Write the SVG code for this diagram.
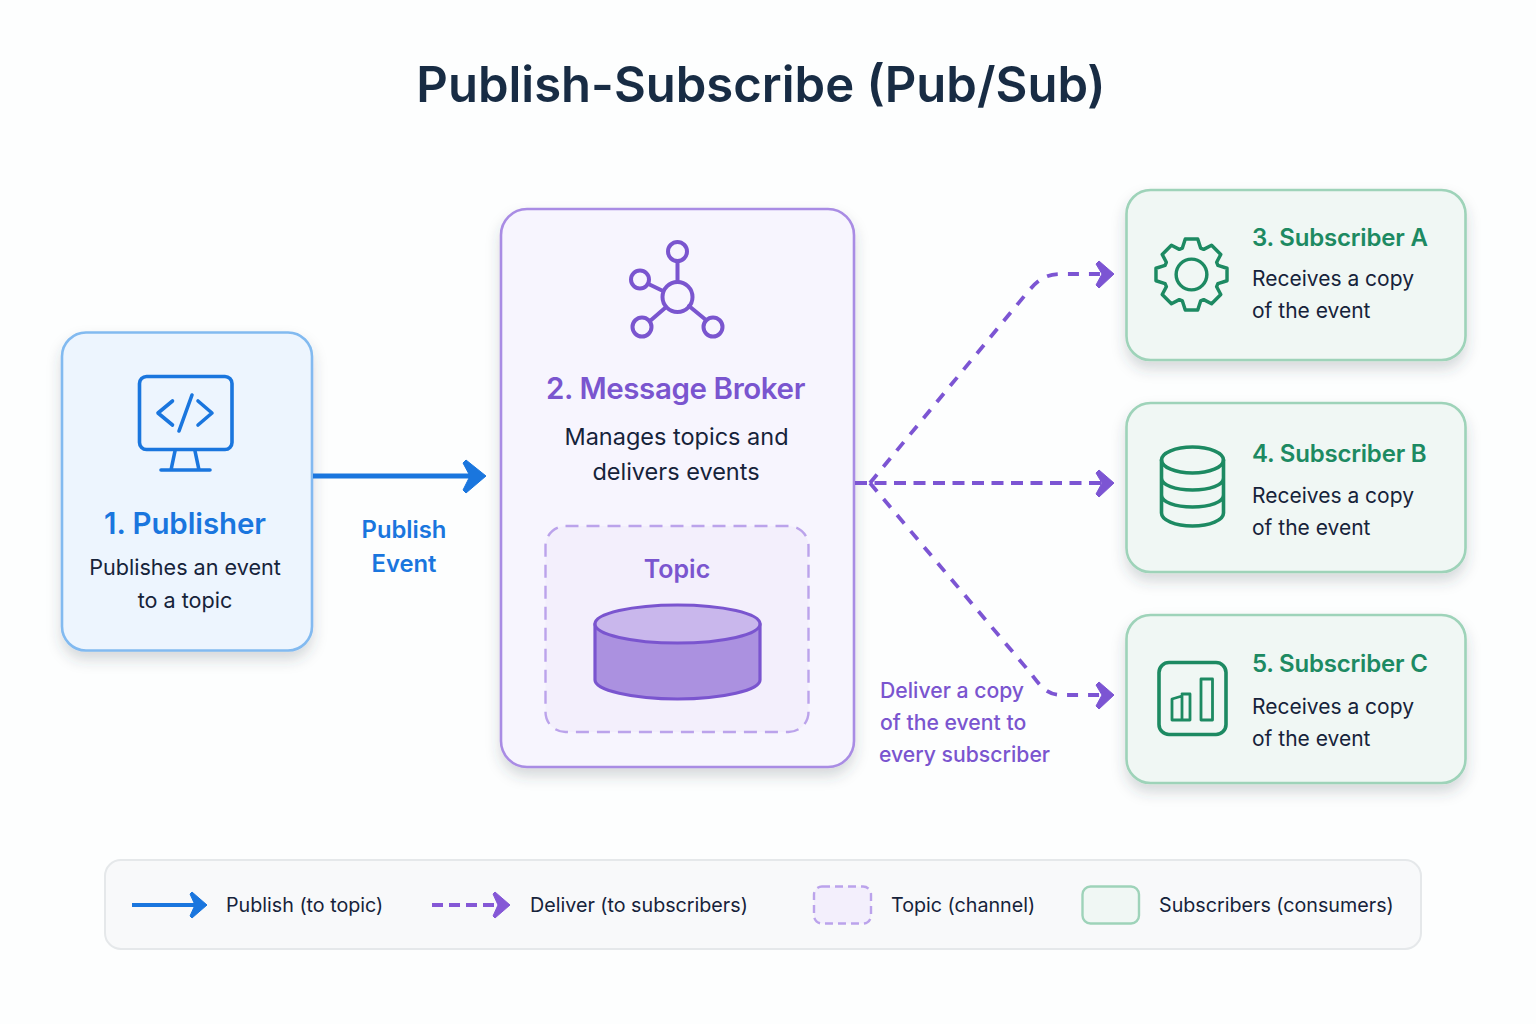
<svg xmlns="http://www.w3.org/2000/svg" width="1536" height="1024" viewBox="0 0 1536 1024">
<style>
text{font-family:Inter,"Noto Sans","Liberation Sans",sans-serif}
.title{font-size:49px;font-weight:600;fill:#182c44;text-anchor:middle}
.blue{fill:#1a76de}.pur{fill:#7a55cf}.grn{fill:#1d8a62}
.d{fill:#16233a}
.m{text-anchor:middle}
.sub{font-size:24px;font-weight:600;letter-spacing:-.2px}
.desc{font-size:21px}
.leg{font-size:19.700px;fill:#16233a}
.ib{fill:none;stroke:#1a76de;stroke-width:3.600;stroke-linecap:round;stroke-linejoin:round}
.ip{fill:none;stroke:#7a55cf;stroke-width:4;stroke-linecap:round;stroke-linejoin:round}
.ig{fill:none;stroke:#1d8a62;stroke-width:3.600;stroke-linecap:round;stroke-linejoin:round}
.card{fill:#f0f7f4;stroke:#9ed3b9;stroke-width:2.600;filter:url(#sh)}
.dash{fill:none;stroke:#7c55d3;stroke-width:3.800}
.dm{stroke-dasharray:12 7.500}
.dd{stroke-dasharray:11 10}
</style>
<defs>
<filter id="sh" x="-15%" y="-15%" width="130%" height="135%"><feDropShadow dx="0" dy="8" stdDeviation="7" flood-color="#33424f" flood-opacity=".2"/></filter>
</defs>
<rect width="1536" height="1024" fill="#fdfefe"/>
<text class="title" x="761" y="102">Publish-Subscribe (Pub/Sub)</text>

<g id="publisher">
<rect x="62" y="332.500" width="250" height="318" rx="24" fill="#edf5fe" stroke="#82baf0" stroke-width="2.600" filter="url(#sh)"/>
<rect class="ib" x="139.500" y="376.500" width="92.500" height="73" rx="7"/>
<path class="ib" d="M175 451L171 470M195 451L199 470M161 470H210M172.500 401L158 413L172.500 425M198 401L212 413L198 425M192 395L179 431"/>
<text class="blue m" x="185" y="534" font-size="29.500" font-weight="600" letter-spacing="-.1">1. Publisher</text>
<text class="d m" x="185" y="575" font-size="21.600">Publishes an event</text>
<text class="d m" x="185" y="608" font-size="21.600">to a topic</text>
</g>

<g id="broker">
<rect x="501" y="209" width="353" height="558" rx="26" fill="#f7f5fe" stroke="#a98ce4" stroke-width="2.600" filter="url(#sh)"/>
<g class="ip">
<circle cx="677.500" cy="297" r="15"/><circle cx="677.500" cy="251.500" r="9.500"/><circle cx="640" cy="279.500" r="9"/><circle cx="642" cy="327" r="9.500"/><circle cx="713" cy="327" r="9.500"/>
<path d="M677.500 261V282M648.500 284L663 291M650 321L665 308M706 320L689 306"/>
</g>
<text class="pur m" x="675.500" y="399" font-size="29.500" font-weight="600" letter-spacing="-.4">2. Message Broker</text>
<text class="d m" x="676.500" y="444.500" font-size="23.500">Manages topics and</text>
<text class="d m" x="676" y="479.500" font-size="23.500">delivers events</text>
</g>

<g id="topic">
<rect x="545.500" y="526" width="263" height="206" rx="20" fill="#f3effc" stroke="#bba3eb" stroke-width="2.400" stroke-dasharray="13 8"/>
<text class="pur m" x="677" y="578" font-size="25" font-weight="600">Topic</text>
<path d="M595 624V680C595 690 632 699 677.500 699S760 690 760 680V624Z" fill="#ab91e0" stroke="#7a55cf" stroke-width="3.200" stroke-linejoin="round"/>
<ellipse cx="677.500" cy="624" rx="82.500" ry="19" fill="#c9b7ec" stroke="#7a55cf" stroke-width="3.200"/>
</g>

<g id="subscriber-a">
<rect class="card" x="1126.500" y="190" width="339" height="170" rx="24"/>
<g class="ig" transform="translate(1191.500 274.500) scale(.96)">
<path d="M-9.500 -27.500L-6.500 -37L6.500 -37L9.500 -27.500L12.700 -26.200L20.900 -30.500L30.500 -20.900L26.200 -12.700L27.500 -9.500L37 -6.500L37 6.500L27.500 9.500L26.200 12.700L30.500 20.900L20.900 30.500L12.700 26.200L9.500 27.500L6.500 37L-6.500 37L-9.500 27.500L-12.700 26.200L-20.900 30.500L-30.500 20.900L-26.200 12.700L-27.500 9.500L-37 6.500L-37 -6.500L-27.500 -9.500L-26.200 -12.700L-30.500 -20.900L-20.900 -30.500L-12.700 -26.200Z"/>
<circle r="16"/>
</g>
<text class="grn sub" x="1252" y="246">3. Subscriber A</text>
<text class="d desc" x="1252" y="286">Receives a copy</text>
<text class="d desc" x="1252" y="318">of the event</text>
</g>

<g id="subscriber-b">
<rect class="card" x="1126.500" y="403" width="339" height="169" rx="24"/>
<g class="ig">
<ellipse cx="1192.500" cy="460" rx="31" ry="13"/>
<path d="M1161.500 460V513C1161.500 520 1175 526 1192.500 526S1223.500 520 1223.500 513V460M1161.500 478C1161.500 485 1175 490 1192.500 490S1223.500 485 1223.500 478M1161.500 495C1161.500 502 1175 507 1192.500 507S1223.500 502 1223.500 495"/>
</g>
<text class="grn sub" x="1252" y="462">4. Subscriber B</text>
<text class="d desc" x="1252" y="503">Receives a copy</text>
<text class="d desc" x="1252" y="535">of the event</text>
</g>

<g id="subscriber-c">
<rect class="card" x="1126.500" y="615" width="339" height="168" rx="24"/>
<g class="ig">
<rect x="1159" y="662.500" width="67" height="72" rx="10"/>
<path d="M1172 720V699L1182 696V720ZM1182 694H1190V720H1182M1201 720V679H1212.500V720Z" stroke-width="2.800"/>
</g>
<text class="grn sub" x="1252" y="672">5. Subscriber C</text>
<text class="d desc" x="1252" y="714">Receives a copy</text>
<text class="d desc" x="1252" y="746">of the event</text>
</g>

<g id="connectors">
<path d="M313 476H470" fill="none" stroke="#1a76de" stroke-width="5"/>
<path d="M463 463L466 460L486 476L466 493L463 490L470 476Z" fill="#1a76de" stroke="#1a76de" stroke-width="1" stroke-linejoin="round"/>
<path class="dash dm" d="M855 483H1104"/>
<path class="dash dd" d="M870 483L1026 294C1036 282 1044 274 1060 274H1104"/>
<path class="dash dd" d="M870 483L1028 670C1038 682 1044 695 1062 695H1104"/>
<path d="M1096 264L1099 261L1114 274L1099 288L1096 285L1102 274Z M1096 473L1099 470L1114 483L1099 497L1096 494L1102 483Z M1096 685L1099 682L1114 695L1099 709L1096 706L1102 695Z" fill="#7c55d3" stroke="#7c55d3" stroke-linejoin="round"/>
</g>

<text class="blue m" x="404" y="538" font-size="23.800" font-weight="600">Publish</text>
<text class="blue m" x="404" y="572" font-size="23.800" font-weight="600">Event</text>
<text class="pur" x="880" y="697.500" font-size="21.200" font-weight="500">Deliver a copy</text>
<text class="pur" x="880" y="729.500" font-size="21.200" font-weight="500">of the event to</text>
<text class="pur" x="879" y="761.500" font-size="21.200" font-weight="500">every subscriber</text>

<g id="legend">
<rect x="105" y="860" width="1316" height="89" rx="16" fill="#f8f9fa" stroke="#e5e8ea" stroke-width="2"/>
<path d="M132 905H196" fill="none" stroke="#1a76de" stroke-width="4"/>
<path d="M190 894L192 892L207 905L192 918L190 916L195 905Z" fill="#1a76de" stroke="#1a76de" stroke-linejoin="round"/>
<text class="leg" x="226" y="912">Publish (to topic)</text>
<path d="M432 905H500" fill="none" stroke="#8558d6" stroke-width="4" stroke-dasharray="11 6"/>
<path d="M493 894L495 892L510 905L495 918L493 916L498 905Z" fill="#8558d6" stroke="#8558d6" stroke-linejoin="round"/>
<text class="leg" x="530" y="912">Deliver (to subscribers)</text>
<rect x="814" y="886.500" width="57" height="37" rx="8" fill="#f3effc" stroke="#bba3eb" stroke-width="2.400" stroke-dasharray="8 5"/>
<text class="leg" x="891" y="912">Topic (channel)</text>
<rect x="1082.500" y="886.500" width="56.500" height="37" rx="8" fill="#f0f7f4" stroke="#9ed3b9" stroke-width="2.400"/>
<text class="leg" x="1159" y="912">Subscribers (consumers)</text>
</g>
</svg>
